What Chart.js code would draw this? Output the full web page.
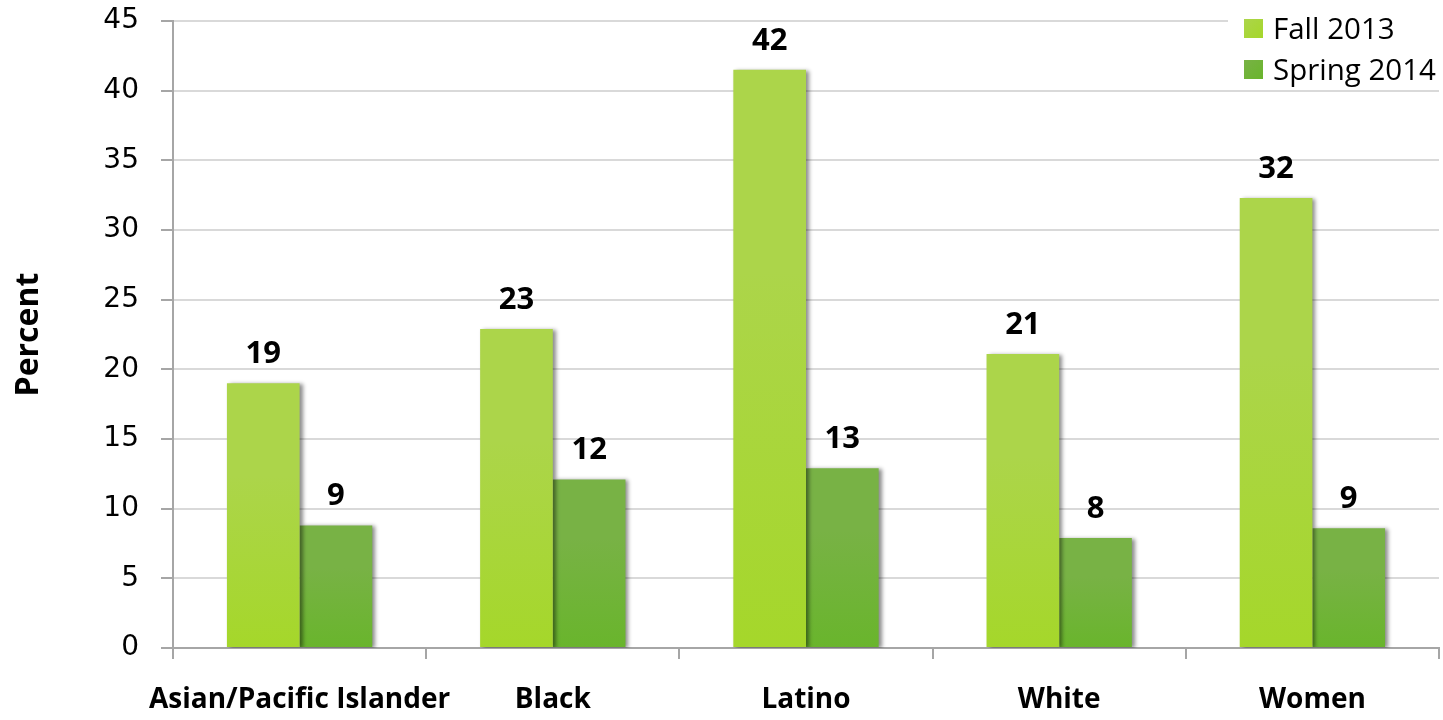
<!DOCTYPE html>
<html>
<head>
<meta charset="utf-8">
<script src="https://cdn.jsdelivr.net/npm/chart.js@4/dist/chart.umd.min.js"></script>
<style>
  html, body { margin: 0; padding: 0; background: #fff; }
  #wrap { position: relative; width: 1443px; height: 720px; }
  #legend { position: absolute; left: 1228px; top: 3px; width: 214px; height: 84px; background: #fff;
            font-family: "Open Sans", sans-serif; font-size: 29.5px; color: #000; }
  .li { position: absolute; left: 16px; height: 40px; line-height: 40px; white-space: nowrap; }
  .sw { display: inline-block; width: 19px; height: 19px; vertical-align: middle; margin-right: 10px; position: relative; top: -3px; }
</style>
</head>
<body>
<div id="wrap">
  <canvas id="c" width="1443" height="720"></canvas>
  <div id="legend"></div>
</div>
<script>
const categories = ["Asian/Pacific Islander", "Black", "Latino", "White", "Women"];
const seriesNames = ["Fall 2013", "Spring 2014"];
const fall2013 = [19.0, 22.9, 41.5, 21.1, 32.3];
const spring2014 = [8.8, 12.1, 12.9, 7.9, 8.6];
const yTicks = [0, 5, 10, 15, 20, 25, 30, 35, 40, 45];

const fallColors = ["#acd54a", "#a5d72a"];
const springColors = ["#78b245", "#69b52c"];

function grad(c, cols) {
  const chart = c.chart;
  const area = chart.chartArea;
  const ys = chart.scales.y;
  if (!area || !ys || c.raw === undefined) return cols[0];
  const top = ys.getPixelForValue(c.raw);
  const g = chart.ctx.createLinearGradient(0, top, 0, area.bottom);
  g.addColorStop(0, cols[0]);
  g.addColorStop(0.35, cols[0]);
  g.addColorStop(1, cols[1]);
  return g;
}

const shadowPlugin = {
  id: 'shadow',
  beforeDatasetDraw(chart) {
    const ctx = chart.ctx;
    ctx.save();
    ctx.shadowColor = 'rgba(0,0,0,0.45)';
    ctx.shadowBlur = 4;
    ctx.shadowOffsetX = 3;
    ctx.shadowOffsetY = 1;
  },
  afterDatasetDraw(chart) {
    chart.ctx.restore();
  }
};

const labelPlugin = {
  id: 'valueLabels',
  afterDatasetsDraw(chart) {
    const ctx = chart.ctx;
    ctx.save();
    ctx.font = 'bold 31px "Open Sans", sans-serif';
    ctx.fillStyle = '#000';
    ctx.textAlign = 'center';
    ctx.textBaseline = 'alphabetic';
    chart.data.datasets.forEach((ds, i) => {
      const meta = chart.getDatasetMeta(i);
      meta.data.forEach((bar, j) => {
        ctx.fillText(String(Math.round(ds.data[j])), bar.x, bar.y - 20);
      });
    });
    ctx.restore();
  }
};

const chart = new Chart(document.getElementById('c'), {
  type: 'bar',
  data: {
    labels: categories,
    datasets: [
      { label: seriesNames[0], data: fall2013, backgroundColor: c => grad(c, fallColors), borderWidth: 0 },
      { label: seriesNames[1], data: spring2014, backgroundColor: c => grad(c, springColors), borderWidth: 0 }
    ]
  },
  options: {
    responsive: false,
    animation: false,
    layout: { padding: { left: 0, right: 4, top: 21, bottom: 0 } },
    plugins: { legend: { display: false }, tooltip: { enabled: false } },
    datasets: { bar: { categoryPercentage: 0.574, barPercentage: 1.0 } },
    scales: {
      x: {
        grid: { display: true, drawOnChartArea: false, drawTicks: true, tickLength: 11, color: '#a6a6a6', lineWidth: 2, offset: true },
        border: { color: '#a6a6a6', width: 2 },
        ticks: { color: '#000', font: { family: '"Open Sans", sans-serif', size: 28, weight: 'bold' }, padding: 24, maxRotation: 0, autoSkip: false },
        afterFit: s => { s.height = 72; s.paddingLeft = 0; s.paddingRight = 0; }
      },
      y: {
        min: 0, max: 45,
        afterBuildTicks: s => { s.ticks = yTicks.map(v => ({ value: v })); },
        grid: { color: '#d9d9d9', lineWidth: 2, tickColor: '#a6a6a6', tickLength: 12, drawTicks: true },
        border: { color: '#a6a6a6', width: 2 },
        ticks: { color: '#000', font: { family: '"DejaVu Sans", sans-serif', size: 28 }, padding: 22 },
        title: { display: true, text: 'Percent', color: '#000', font: { family: '"Open Sans", sans-serif', size: 32, weight: 'bold' }, padding: { top: 10, bottom: 0 } },
        afterFit: s => { s.width = 173; s.paddingTop = 0; s.paddingBottom = 0; }
      }
    }
  },
  plugins: [shadowPlugin, labelPlugin]
});

// legend (HTML text)
const legend = document.getElementById('legend');
const sw = [fallColors, springColors];
seriesNames.forEach((n, i) => {
  const d = document.createElement('div');
  d.className = 'li';
  d.style.top = (5 + i * 41) + 'px';
  d.innerHTML = '<span class="sw" style="background:linear-gradient(135deg,' + sw[i][0] + ',' + sw[i][1] + ')"></span>' + n;
  legend.appendChild(d);
});
</script>
</body>
</html>
